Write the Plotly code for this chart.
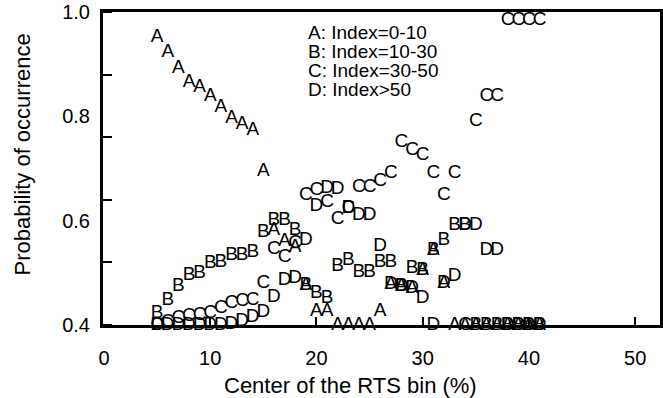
import plotly.graph_objects as go

# Centre of each RTS bin (%)
rts_bins = list(range(5, 42))

# Probability of occurrence for each index class, one value per bin
prob_a = [0.952, 0.922, 0.892, 0.866, 0.856, 0.838, 0.818, 0.796, 0.785, 0.774,
          0.694, 0.581, 0.560, 0.549, 0.477, 0.426, 0.426, 0.400, 0.400, 0.400,
          0.400, 0.426, 0.479, 0.475, 0.470, 0.505, 0.544, 0.480, 0.400, 0.400,
          0.400, 0.400, 0.400, 0.400, 0.400, 0.400, 0.400]
prob_b = [0.422, 0.448, 0.475, 0.496, 0.499, 0.518, 0.521, 0.534, 0.534, 0.540,
          0.578, 0.601, 0.601, 0.582, 0.477, 0.461, 0.451, 0.513, 0.525, 0.502,
          0.502, 0.521, 0.521, 0.475, 0.509, 0.505, 0.544, 0.563, 0.592, 0.592,
          0.400, 0.400, 0.400, 0.400, 0.400, 0.400, 0.400]
prob_c = [0.400, 0.405, 0.413, 0.416, 0.419, 0.422, 0.432, 0.442, 0.445, 0.448,
          0.480, 0.545, 0.530, 0.557, 0.649, 0.659, 0.636, 0.603, 0.624, 0.665,
          0.665, 0.675, 0.691, 0.751, 0.735, 0.726, 0.691, 0.649, 0.691, 0.400,
          0.790, 0.838, 0.838, 0.985, 0.985, 0.985, 0.985]
prob_d = [0.400, 0.400, 0.400, 0.400, 0.400, 0.400, 0.400, 0.402, 0.407, 0.415,
          0.425, 0.454, 0.486, 0.490, 0.563, 0.627, 0.662, 0.660, 0.624, 0.611,
          0.611, 0.551, 0.479, 0.475, 0.470, 0.451, 0.400, 0.480, 0.493, 0.592,
          0.592, 0.544, 0.544, 0.400, 0.400, 0.400, 0.400]

series = [("A", prob_a), ("B", prob_b), ("C", prob_c), ("D", prob_d)]
legend_lines = ["A: Index=0-10", "B: Index=10-30", "C: Index=30-50", "D: Index>50"]

x_ticks = [0, 10, 20, 30, 40, 50]
y_label_vals = [0.4, 0.6, 0.8, 1.0]
y_label_text = ["0.4", "0.6", "0.8", "1.0"]
y_tick_marks = [0.4, 0.52, 0.64, 0.76, 0.88, 1.0]

FONT = "Liberation Sans, Arial, sans-serif"

# plot area in pixels
L, T, W, H = 103, 12, 560, 313

fig = go.Figure()
for letter, values in series:
    fig.add_trace(go.Scatter(
        x=rts_bins, y=values, mode="text",
        text=[letter] * len(values),
        textposition="middle center",
        textfont=dict(family=FONT, size=19, color="black"),
        cliponaxis=False, showlegend=False,
    ))

for i, line in enumerate(legend_lines):
    fig.add_annotation(
        text=line, xref="paper", yref="paper",
        x=(306.7 - L) / W, y=1 - (32.7 + 19 * i - T) / H,
        xanchor="left", yanchor="middle", showarrow=False,
        font=dict(family=FONT, size=19, color="black"),
    )

fig.add_annotation(
    text="Probability of occurrence", xref="paper", yref="paper",
    x=(22 - L) / W, y=1 - (154 - T) / H, textangle=-90,
    xanchor="center", yanchor="middle", showarrow=False,
    font=dict(family=FONT, size=22, color="black"),
)
fig.add_annotation(
    text="Center of the RTS bin (%)", xref="paper", yref="paper",
    x=(352 - L) / W, y=1 - (385 - T) / H,
    xanchor="center", yanchor="middle", showarrow=False,
    font=dict(family=FONT, size=22, color="black"),
)

fig.update_layout(
    width=663, height=398,
    margin=dict(l=L, r=663 - L - W, t=T, b=398 - T - H),
    plot_bgcolor="white", paper_bgcolor="white",
    font=dict(family=FONT, size=20, color="black"),
)
fig.update_xaxes(
    range=[-0.094, 52.34], tickvals=x_ticks,
    ticks="inside", ticklen=8, tickwidth=2, tickcolor="black",
    ticklabelstandoff=13,
    showline=True, linewidth=3, linecolor="black", mirror=True,
    showgrid=False, zeroline=False,
    tickfont=dict(family=FONT, size=20, color="black"),
)
fig.update_yaxes(
    range=[0.4, 1.0], tickvals=y_label_vals, ticktext=y_label_text,
    ticks="", ticklabelstandoff=6,
    minor=dict(tickvals=y_tick_marks, ticks="inside", ticklen=9,
               tickwidth=2, tickcolor="black", showgrid=False),
    showline=True, linewidth=3, linecolor="black", mirror=True,
    showgrid=False, zeroline=False,
    tickfont=dict(family=FONT, size=20, color="black"),
)

fig.write_html("out.html")
